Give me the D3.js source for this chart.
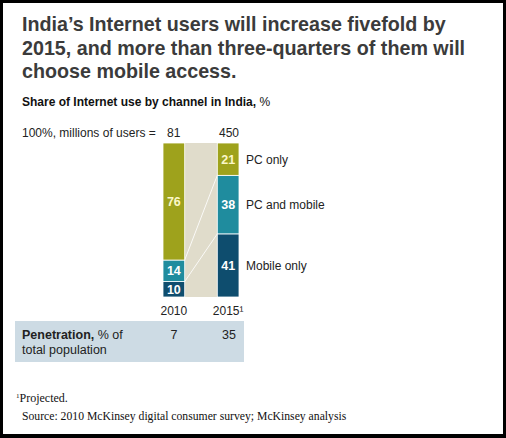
<!DOCTYPE html>
<html>
<head>
<meta charset="utf-8">
<script src="https://cdn.jsdelivr.net/npm/d3@7"></script>
<style>
  html, body { margin: 0; padding: 0; background: #000; }
  svg { display: block; }
  text { font-family: "Liberation Sans", Arial, sans-serif; }
  text.serif { font-family: "Liberation Serif", "DejaVu Serif", serif; }
</style>
</head>
<body>
<svg id="chart"></svg>
<script>
// values
const years = ["2010", "2015"];
const yearLabels = ["2010", "2015¹"];
const users = [81, 450];
const channels = ["Mobile only", "PC and mobile", "PC only"];
const mobileOnly = [10, 41];
const pcAndMobile = [14, 38];
const pcOnly = [76, 21];
const penetration = [7, 35];

const width = 506, height = 438;
const colors = {"Mobile only": "#0e4d6e", "PC and mobile": "#1f8c9e", "PC only": "#9ea21c"};
const labelFill = {"Mobile only": "#ffffff", "PC and mobile": "#ffffff", "PC only": "#fbf7c8"};

// rows per year -> stacked
const rows = years.map((yr, i) => ({
    year: yr,
    "Mobile only": mobileOnly[i],
    "PC and mobile": pcAndMobile[i],
    "PC only": pcOnly[i]
}));
const series = d3.stack().keys(channels)(rows);

const x = d3.scaleBand()
    .domain(years)
    .range([163, 239])
    .paddingInner(0.6);

const y = d3.scaleLinear()
    .domain([0, 100])
    .range([297, 143]);

const svg = d3.select("#chart")
    .attr("width", width)
    .attr("height", height);

// white card inside the black frame
svg.append("rect")
    .attr("x", 3).attr("y", 3)
    .attr("width", 500).attr("height", 431)
    .attr("fill", "#fff");

// title
const title = ["India’s Internet users will increase fivefold by",
    "2015, and more than three-quarters of them will",
    "choose mobile access."];
svg.append("g").selectAll("text")
    .data(title)
    .join("text")
    .attr("x", 22)
    .attr("y", (d, i) => 31 + i * 23.5)
    .attr("font-size", 19.7)
    .attr("font-weight", "bold")
    .attr("fill", "#3b3b3b")
    .text(d => d);

// subtitle
const sub = svg.append("text")
    .attr("x", 22).attr("y", 106)
    .attr("font-size", 12)
    .attr("fill", "#111");
sub.append("tspan").attr("font-weight", "bold").text("Share of Internet use by channel in India,");
sub.append("tspan").text(" %");

// 100% row
svg.append("text")
    .attr("x", 22).attr("y", 137)
    .attr("font-size", 12)
    .attr("fill", "#222")
    .text("100%, millions of users =");

svg.append("g").selectAll("text")
    .data(years)
    .join("text")
    .attr("x", (d, i) => i === 0 ? x(d) + 4 : x(d) + x.bandwidth())
    .attr("y", 137)
    .attr("text-anchor", (d, i) => i === 0 ? "start" : "end")
    .attr("font-size", 12)
    .attr("fill", "#222")
    .text((d, i) => users[i]);

// beige gap between the bars
const x0 = x(years[0]) + x.bandwidth(), x1 = x(years[1]);
svg.append("rect")
    .attr("x", x0).attr("y", y(100))
    .attr("width", x1 - x0).attr("height", y(0) - y(100))
    .attr("fill", "#e0dccb");

// connector lines between segment boundaries
const bounds = series.slice(0, -1).map(s => s.map(d => d[1]));
svg.append("g").selectAll("line")
    .data(bounds)
    .join("line")
    .attr("x1", x0).attr("y1", d => y(d[0]))
    .attr("x2", x1).attr("y2", d => y(d[1]))
    .attr("stroke", "#fff")
    .attr("stroke-width", 1)
    .attr("opacity", 0.85);

// bars
const g = svg.append("g").selectAll("g")
    .data(series)
    .join("g")
    .attr("fill", d => colors[d.key]);

g.selectAll("rect")
    .data(d => d)
    .join("rect")
    .attr("x", d => x(d.data.year))
    .attr("y", d => y(d[1]))
    .attr("width", x.bandwidth())
    .attr("height", d => y(d[0]) - y(d[1]))
    .attr("stroke", "#fff")
    .attr("stroke-width", 0.8);

// values in bars
svg.append("g").selectAll("g")
    .data(series)
    .join("g")
    .selectAll("text")
    .data(s => s.map(d => ({key: s.key, d})))
    .join("text")
    .attr("x", o => x(o.d.data.year) + x.bandwidth() / 2)
    .attr("y", o => y((o.d[0] + o.d[1]) / 2) + 4.5)
    .attr("text-anchor", "middle")
    .attr("font-size", 12.5)
    .attr("font-weight", "bold")
    .attr("fill", o => labelFill[o.key])
    .text(o => o.d.data[o.key]);

// legend to the right of 2015 bar
svg.append("g").selectAll("text")
    .data(series)
    .join("text")
    .attr("x", x(years[1]) + x.bandwidth() + 7)
    .attr("y", s => y((s[1][0] + s[1][1]) / 2) + 4.5)
    .attr("font-size", 12)
    .attr("fill", "#222")
    .text(s => s.key);

// year axis
const xAxis = svg.append("g")
    .attr("transform", `translate(0,${y(0)})`)
    .call(d3.axisBottom(x).tickSize(0).tickPadding(9).tickFormat((d, i) => yearLabels[i]));
xAxis.select(".domain").remove();
xAxis.selectAll("text")
    .attr("font-size", 12)
    .attr("fill", "#222");

// penetration box
svg.append("rect")
    .attr("x", 15).attr("y", 321)
    .attr("width", 229).attr("height", 41)
    .attr("fill", "#cddbe4");

const pen = svg.append("text")
    .attr("x", 22).attr("y", 339)
    .attr("font-size", 12.5)
    .attr("fill", "#222");
pen.append("tspan").attr("font-weight", "bold").text("Penetration,");
pen.append("tspan").text(" % of");
svg.append("text")
    .attr("x", 22).attr("y", 354)
    .attr("font-size", 12.5)
    .attr("fill", "#222")
    .text("total population");

svg.append("g").selectAll("text")
    .data(years)
    .join("text")
    .attr("x", (d, i) => i === 0 ? x(d) + x.bandwidth() / 2 : x(d) + x.bandwidth() - 3)
    .attr("y", 339)
    .attr("text-anchor", (d, i) => i === 0 ? "middle" : "end")
    .attr("font-size", 12.5)
    .attr("fill", "#222")
    .text((d, i) => penetration[i]);

// footnotes
const fn = svg.append("text")
    .attr("class", "serif")
    .attr("x", 16).attr("y", 402)
    .attr("font-size", 12)
    .attr("fill", "#111");
fn.append("tspan").attr("font-size", 7).attr("dy", -4).text("1");
fn.append("tspan").attr("dy", 4).text("Projected.");

svg.append("text")
    .attr("class", "serif")
    .attr("x", 22).attr("y", 420)
    .attr("font-size", 11.7)
    .attr("fill", "#111")
    .text("Source: 2010 McKinsey digital consumer survey; McKinsey analysis");
</script>
</body>
</html>
